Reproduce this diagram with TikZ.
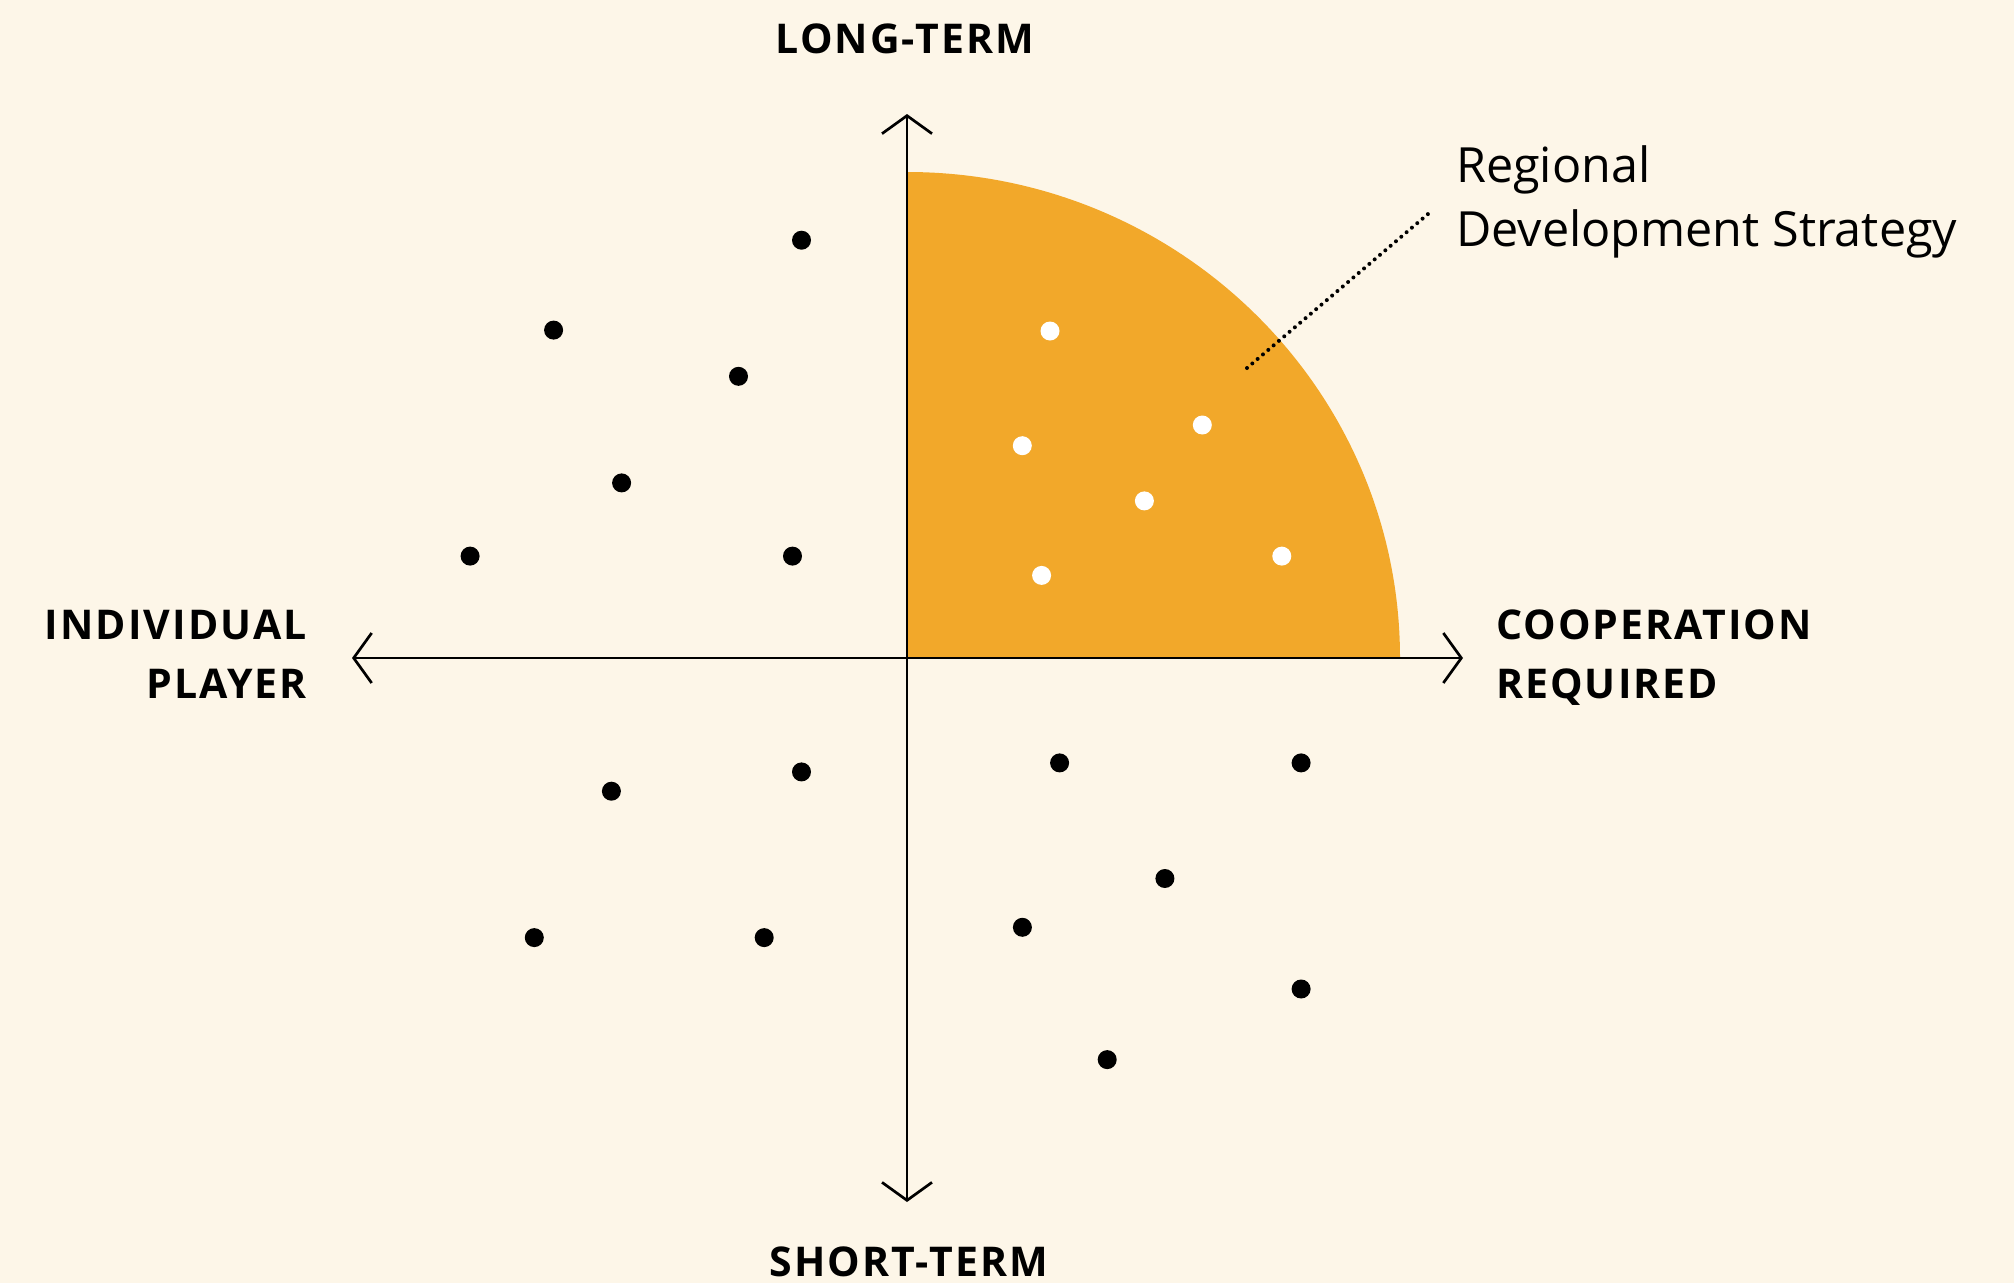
\documentclass[tikz,border=0pt]{standalone}
\usepackage{fontspec}
\setmainfont{Open Sans}
\newfontfamily\axisfont[LetterSpace=5]{Open Sans}
\usetikzlibrary{arrows.meta}

\definecolor{bgcream}{RGB}{253,246,232}
\definecolor{zoneorange}{RGB}{242,168,42}

\tikzset{
  axisline/.style={line width=2.7pt, black,
    {Straight Barb[length=18pt,width=50pt,line width=2.7pt]}-{Straight Barb[length=18pt,width=50pt,line width=2.7pt]}},
  axislabel/.style={inner sep=0pt, font=\axisfont\bfseries\fontsize{41}{58.5}\selectfont},
  notelabel/.style={inner sep=0pt, align=left, font=\fontsize{48.5}{64}\selectfont},
  actor/.style={circle, fill=black, inner sep=0pt, minimum size=19pt},
  member/.style={circle, fill=white, inner sep=0pt, minimum size=19pt},
  leader/.style={line width=4pt, line cap=round, dash pattern=on 0pt off 6.985pt}
}

\begin{document}
\begin{tikzpicture}[x=1pt,y=-1pt]
  \fill[bgcream] (0,0) rectangle (2014,1283);
  \useasboundingbox (0,0) rectangle (2014,1283);

  % axis ends
  \coordinate (origin) at (907,658);
  \coordinate (north) at (907,114);
  \coordinate (south) at (907,1202);
  \coordinate (west)  at (352,658);
  \coordinate (east)  at (1463,658);

  % cooperative long-term quadrant
  \fill[zoneorange] (origin) -- (907,172)
    arc[start angle=-90, end angle=0, x radius=493, y radius=486] -- cycle;

  % axes
  \draw[axisline] (south) -- (north);
  \draw[axisline] (west) -- (east);

  % axis labels (two-line labels are anchored on their last line)
  \node[axislabel, anchor=base] (lt) at (905,53) {LONG-TERM};
  \node[axislabel, anchor=base] (st) at (909,1276) {SHORT-TERM};
  \node[axislabel, anchor=base east, align=right] (ip) at (307,698) {INDIVIDUAL\\PLAYER};
  \node[axislabel, anchor=base west, align=left] (cr) at (1496,698) {COOPERATION\\REQUIRED};

  % strategy note with leader
  \node[notelabel, anchor=base west] (rds) at (1456,246) {Regional\\Development Strategy};
  \coordinate (leadin) at (1247,368);
  \coordinate (leadout) at (1428,214);
  \draw[leader] (leadin) -- (leadout);

  % individual actors
  \node[actor] (a1)  at (801.5,240.2) {};
  \node[actor] (a2)  at (553.6,330.1) {};
  \node[actor] (a3)  at (738.5,376.3) {};
  \node[actor] (a4)  at (621.6,482.9) {};
  \node[actor] (a5)  at (470.1,556.1) {};
  \node[actor] (a6)  at (792.5,556.1) {};
  \node[actor] (a7)  at (611.4,791.2) {};
  \node[actor] (a8)  at (801.5,771.9) {};
  \node[actor] (a9)  at (534.3,937.6) {};
  \node[actor] (a10) at (764.2,937.6) {};
  \node[actor] (a11) at (1059.6,762.9) {};
  \node[actor] (a12) at (1301.1,762.9) {};
  \node[actor] (a13) at (1164.9,878.5) {};
  \node[actor] (a14) at (1022.4,927.3) {};
  \node[actor] (a15) at (1301.1,989.0) {};
  \node[actor] (a16) at (1107.2,1059.6) {};

  % members of the regional strategy
  \node[member] (m1) at (1050,331) {};
  \node[member] (m2) at (1022.3,445.7) {};
  \node[member] (m3) at (1202.3,425) {};
  \node[member] (m4) at (1144.4,500.9) {};
  \node[member] (m5) at (1041.6,575.4) {};
  \node[member] (m6) at (1281.8,556.1) {};
\end{tikzpicture}
\end{document}
